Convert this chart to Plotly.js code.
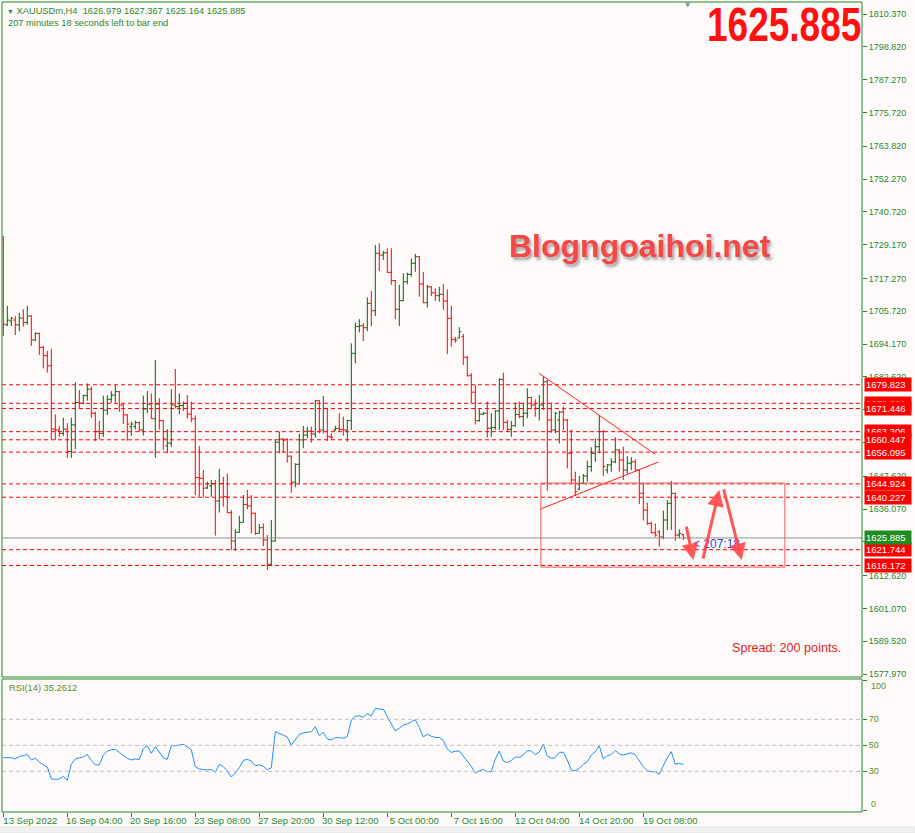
<!DOCTYPE html>
<html><head><meta charset="utf-8">
<script src="https://cdn.plot.ly/plotly-3.0.1.min.js"></script>
<style>html,body{margin:0;padding:0;background:#fffafa;}#chart{width:915px;height:833px;}</style>
</head><body><div id="chart"></div>
<script>
// ---- XAUUSDm H4 bars (13 Sep 2022 .. 19 Oct 2022) ----
const openP = [1730.8,1700.9,1702.3,1702.6,1700.9,1703.3,1701.8,1704.0,1695.6,1697.9,
 1693.0,1690.1,1686.5,1664.2,1663.9,1662.7,1664.2,1656.3,1665.7,1673.6,
 1673.3,1676.0,1678.3,1669.8,1663.3,1662.7,1670.9,1674.7,1676.2,1677.4,
 1672.7,1669.2,1665.0,1665.1,1666.5,1663.9,1671.3,1673.0,1667.8,1673.0,
 1667.2,1658.3,1659.3,1672.7,1672.1,1672.5,1673.3,1669.5,1667.8,1647.2,
 1646.9,1643.5,1644.2,1645.0,1638.9,1645.0,1640.4,1634.8,1624.8,1627.9,
 1631.4,1637.7,1637.1,1634.6,1627.5,1629.5,1625.2,1616.6,1624.8,1659.6,
 1660.7,1660.6,1654.7,1645.5,1651.8,1660.4,1662.1,1663.5,1662.5,1674.2,
 1663.9,1671.5,1661.5,1663.9,1664.5,1664.1,1663.9,1667.2,1690.9,1700.3,
 1700.6,1699.9,1708.5,1705.9,1726.1,1725.5,1726.3,1719.4,1716.5,1706.4,
 1709.4,1716.1,1718.7,1722.6,1724.9,1715.3,1708.7,1714.3,1712.2,1711.2,
 1711.7,1709.3,1703.2,1695.8,1696.3,1696.7,1689.5,1683.0,1677.2,1667.2,
 1669.5,1669.8,1664.5,1664.8,1670.6,1681.7,1666.6,1664.1,1665.4,1669.4,
 1668.6,1669.8,1675.3,1672.7,1671.5,1672.7,1680.9,1667.4,1663.9,1667.4,
 1670.2,1667.4,1655.7,1646.3,1643.1,1645.1,1647.7,1651.0,1655.7,1658.0,
 1663.3,1649.8,1651.6,1652.7,1656.9,1653.3,1649.8,1652.2,1652.7,1649.8,
 1641.6,1635.7,1631.0,1627.7,1628.0,1626.2,1632.2,1638.1,1641.6,1626.9,
 1626.979];
const highP = [1732.2,1707.6,1703.6,1704.0,1705.1,1706.4,1707.6,1704.3,1698.3,1698.2,
 1693.5,1691.8,1692.5,1669.4,1665.3,1668.2,1666.3,1668.2,1680.7,1678.0,
 1676.3,1680.3,1679.1,1670.3,1667.1,1676.0,1676.2,1677.6,1679.7,1677.6,
 1673.0,1669.5,1666.8,1667.2,1666.8,1676.0,1677.6,1676.8,1688.5,1675.1,
 1667.4,1664.2,1678.3,1685.4,1676.8,1673.9,1676.2,1673.9,1669.0,1658.3,
 1649.8,1645.7,1646.3,1646.3,1650.2,1647.4,1648.6,1635.7,1629.0,1633.7,
 1641.0,1642.8,1641.0,1634.8,1630.8,1631.0,1626.9,1632.2,1660.7,1663.3,
 1661.0,1661.0,1654.8,1652.2,1662.5,1665.3,1665.1,1665.1,1674.5,1674.5,
 1675.9,1671.7,1662.7,1665.4,1669.8,1668.6,1667.4,1694.4,1701.7,1702.9,
 1701.5,1710.6,1712.8,1729.0,1729.6,1727.0,1727.9,1727.9,1716.7,1715.0,
 1719.1,1719.3,1724.3,1725.9,1725.2,1719.6,1715.0,1714.6,1713.8,1714.3,
 1715.3,1713.4,1707.6,1696.7,1700.1,1697.7,1689.9,1683.9,1679.7,1671.5,
 1670.3,1673.9,1669.8,1670.9,1682.1,1684.1,1667.4,1667.1,1673.5,1673.9,
 1673.5,1678.6,1675.6,1674.7,1676.2,1682.9,1681.5,1673.5,1670.3,1670.7,
 1672.1,1667.7,1664.1,1649.2,1647.7,1648.4,1653.1,1657.8,1661.0,1669.2,
 1663.9,1651.9,1653.9,1661.3,1657.2,1658.0,1654.7,1654.3,1653.6,1650.1,
 1645.3,1638.3,1631.6,1631.0,1628.7,1635.5,1639.2,1646.0,1641.8,1628.9,
 1627.367];
const lowP = [1697.0,1700.5,1700.5,1697.3,1698.7,1700.3,1700.9,1693.5,1695.2,1690.3,
 1685.6,1684.1,1660.6,1660.4,1661.5,1661.8,1654.1,1654.1,1657.2,1671.3,
 1673.0,1674.2,1668.2,1660.0,1660.6,1661.5,1669.2,1673.5,1673.5,1670.3,
 1666.0,1660.1,1661.9,1664.1,1663.3,1661.9,1669.8,1667.8,1654.1,1664.1,
 1656.9,1655.7,1658.0,1671.5,1669.4,1670.6,1668.0,1666.6,1641.0,1640.4,
 1640.1,1643.1,1640.4,1626.7,1634.8,1636.9,1634.6,1621.6,1621.4,1627.7,
 1631.3,1636.0,1627.5,1626.9,1627.4,1623.0,1614.6,1616.1,1624.6,1655.7,
 1656.0,1652.4,1641.8,1643.7,1644.8,1657.5,1661.0,1659.4,1661.3,1662.7,
 1662.7,1660.0,1660.4,1663.5,1663.3,1661.9,1659.8,1663.9,1687.4,1698.3,
 1695.2,1698.7,1700.5,1704.0,1719.9,1723.8,1719.3,1715.0,1703.0,1700.5,
 1709.3,1715.2,1717.9,1719.6,1710.8,1708.5,1707.0,1711.1,1709.3,1709.1,
 1706.2,1690.6,1693.2,1694.6,1696.2,1686.8,1682.7,1673.5,1665.9,1666.8,
 1669.2,1661.2,1661.5,1663.9,1663.9,1663.9,1663.3,1661.5,1665.1,1668.0,
 1665.1,1668.0,1671.2,1668.6,1667.2,1670.9,1642.5,1662.9,1662.7,1659.2,
 1663.9,1650.4,1645.3,1640.6,1642.8,1644.9,1645.7,1649.2,1652.7,1655.7,
 1647.7,1648.6,1649.2,1652.2,1649.2,1646.3,1648.6,1649.8,1649.2,1637.8,
 1632.0,1630.4,1627.5,1626.3,1622.8,1625.4,1628.7,1628.7,1624.9,1625.7,
 1625.164];
const closeP = [1701.2,1702.6,1703.3,1700.9,1703.3,1701.8,1704.0,1695.6,1697.9,1693.0,
 1690.1,1686.5,1664.2,1663.9,1662.7,1664.2,1656.3,1665.7,1673.6,1673.3,
 1676.0,1678.3,1669.8,1663.3,1662.7,1670.9,1674.7,1676.2,1677.4,1672.7,
 1669.2,1666.0,1666.0,1666.5,1663.9,1671.3,1673.0,1668.0,1673.0,1667.2,
 1661.0,1659.3,1672.7,1672.1,1672.5,1673.3,1669.5,1667.8,1647.2,1646.9,
 1643.4,1645.0,1645.0,1638.9,1645.0,1640.4,1634.8,1624.8,1627.9,1631.4,
 1637.7,1637.1,1634.6,1627.5,1629.5,1625.2,1616.6,1624.8,1659.6,1660.7,
 1660.3,1654.7,1645.5,1651.8,1660.4,1662.1,1663.5,1662.5,1674.2,1663.9,
 1671.5,1661.5,1661.3,1664.5,1664.1,1663.9,1667.2,1690.9,1700.3,1700.6,
 1699.9,1708.5,1705.9,1726.1,1725.5,1726.3,1719.4,1716.5,1706.4,1709.4,
 1716.1,1718.7,1722.6,1724.9,1715.3,1708.7,1714.3,1712.2,1711.2,1711.7,
 1709.3,1703.2,1695.8,1695.6,1698.5,1689.5,1683.0,1677.2,1667.2,1669.5,
 1669.8,1664.5,1664.8,1670.6,1681.7,1666.6,1664.1,1665.4,1669.4,1668.6,
 1669.8,1675.3,1672.7,1671.5,1672.7,1680.9,1667.4,1663.9,1669.8,1670.2,
 1667.4,1655.7,1646.3,1642.2,1645.1,1647.7,1651.0,1655.7,1658.0,1663.3,
 1651.0,1651.6,1652.7,1656.9,1653.3,1649.8,1652.2,1652.7,1649.8,1641.6,
 1635.7,1631.0,1627.7,1626.9,1626.2,1632.2,1638.1,1641.6,1626.9,1627.5,
 1625.885];
const rsi14 = [40.5,40.5,40.5,39.5,41.5,42.0,43.0,38.7,40.0,36.9,
 35.4,33.3,24.1,23.8,24.1,26.1,23.1,35.4,39.5,40.0,
 41.0,43.0,38.4,34.9,34.9,42.5,45.6,46.6,46.9,44.6,
 42.0,40.0,38.7,39.5,39.0,47.2,49.7,43.8,49.0,44.6,
 40.5,39.2,49.7,49.7,50.2,50.7,48.7,46.6,33.6,31.8,
 31.3,31.0,31.5,29.2,35.4,33.6,30.2,25.6,28.7,32.8,
 38.4,39.2,37.9,34.3,34.9,33.8,31.3,32.8,60.5,59.2,
 57.9,56.4,50.2,54.1,58.4,59.5,60.0,60.5,64.3,57.4,
 60.0,54.9,54.1,55.9,55.9,55.4,56.7,69.5,72.3,72.8,
 71.5,74.6,72.5,78.4,77.9,77.7,72.0,66.1,61.0,63.1,
 65.6,66.4,68.2,69.7,63.6,56.4,58.4,56.9,56.1,55.9,
 53.8,47.2,44.5,45.4,45.6,41.3,37.7,33.8,28.7,30.5,
 31.5,29.7,29.7,39.5,45.6,37.9,36.6,38.4,41.0,40.7,
 42.5,45.9,45.6,42.8,44.9,50.8,41.8,40.0,40.5,44.6,
 44.6,38.7,31.0,30.5,32.3,35.4,37.4,42.5,45.1,49.5,
 39.5,42.0,43.0,46.1,43.3,42.5,43.6,44.3,42.5,37.9,
 33.6,30.5,29.7,29.7,27.7,34.3,40.5,45.1,35.4,36.1,
 35.26];

// time axis labels (one every 16 bars)
const timeTickBars = [0,16,32,48,64,80,96,112,128,144,160];
const timeTickLabels = ["13 Sep 2022","16 Sep 04:00","20 Sep 16:00","23 Sep 08:00","27 Sep 20:00",
  "30 Sep 12:00","5 Oct 00:00","7 Oct 16:00","12 Oct 04:00","14 Oct 20:00","19 Oct 08:00"];
// price scale labels
const priceTicks = [1810.370,1798.820,1787.270,1775.720,1763.820,1752.270,1740.720,1729.170,1717.270,
  1705.720,1694.170,1682.620,1671.070,1659.520,1647.620,1636.070,1624.520,1612.620,1601.070,1589.520,1577.970];
const rsiTicks = [0,30,50,70,100];
const rsiTickText = ['','30','50','70',''];
const rsiLevels = [70,50,30];
// horizontal levels drawn on the chart
const levels = [1679.823,1673.281,1671.446,1663.306,1660.447,1656.095,1644.924,1640.227,1621.744,1616.172];
const lastPrice = 1625.885;
// drawn objects (bar index, price)
const triUpperX = [133.9,162.9], triUpperY = [1683.9,1655.4];
const triLowerX = [134.2,163.75], triLowerY = [1636.0,1652.6];
const boxX = [134.4,195.4], boxY = [1615.6,1645.2];
const arrowTailX = [170.7,174.85,180.0], arrowTailY = [1630.4,1618.1,1643.5];
const arrowHeadX = [172.5,179.0,184.6], arrowHeadY = [1618.1,1642.8,1618.1];

const GREEN = '#228b22', TXT = '#2a8a2a', RED = '#ff0000', RSITXT = '#5c8c22';
const idx = openP.map((_, i) => i);

const traces = [
  {type:'ohlc', x: idx, open: openP, high: highP, low: lowP, close: closeP,
   xaxis:'x', yaxis:'y', tickwidth:0.5, hoverinfo:'skip',
   increasing:{line:{color:'#006400', width:1}},
   decreasing:{line:{color:'#ff0000', width:1}}},
  {type:'scatter', mode:'lines', x: idx, y: rsi14, xaxis:'x', yaxis:'y2',
   line:{color:'#1e90ff', width:1}, hoverinfo:'skip'}
];

const pxX = p => (p - 2) / 860;   // pixel -> paper (plot area 2..862)
const pxY = p => (812 - p) / 810; // pixel -> paper (plot area 2..812)
const mainBottom = pxY(677), rsiTop = pxY(679);

const shapes = [];
levels.forEach(v => shapes.push({type:'line', xref:'paper', yref:'y', x0:0, x1:1, y0:v, y1:v,
  line:{color:RED, width:1, dash:'4px,3px'}}));
shapes.push({type:'line', xref:'paper', yref:'y', x0:0, x1:1, y0:lastPrice, y1:lastPrice,
  line:{color:'#8a949c', width:1}});
rsiLevels.forEach(v => shapes.push({type:'line', xref:'paper', yref:'y2', x0:0, x1:1, y0:v, y1:v,
  line:{color:'#c0c0c0', width:1, dash:'4px,3px'}}));
shapes.push({type:'line', xref:'x', yref:'y', x0:triUpperX[0], x1:triUpperX[1], y0:triUpperY[0], y1:triUpperY[1],
  line:{color:'#ff2020', width:1}});
shapes.push({type:'line', xref:'x', yref:'y', x0:triLowerX[0], x1:triLowerX[1], y0:triLowerY[0], y1:triLowerY[1],
  line:{color:'#ff2020', width:1}});
shapes.push({type:'rect', xref:'x', yref:'y', x0:boxX[0], x1:boxX[1], y0:boxY[0], y1:boxY[1],
  line:{color:'#f05a5a', width:1}});
// panel frames
shapes.push({type:'rect', xref:'paper', yref:'paper', x0:0, x1:1, y0:mainBottom, y1:1, line:{color:GREEN, width:1}});
shapes.push({type:'rect', xref:'paper', yref:'paper', x0:0, x1:1, y0:0, y1:rsiTop, line:{color:GREEN, width:1}});
// bottom gray strip of the window
shapes.push({type:'rect', xref:'paper', yref:'paper', layer:'below', x0:pxX(0), x1:pxX(915), y0:pxY(833), y1:pxY(827),
  fillcolor:'#f0f0f0', line:{color:'#e4e4e4', width:1}});

const annotations = [];
annotations.push({xref:'paper', yref:'paper', x:pxX(5), y:pxY(11), xanchor:'left', yanchor:'middle', showarrow:false,
  text:'<span style="font-size:7px">▼</span> XAUUSDm,H4  1626.979 1627.367 1625.164 1625.885',
  font:{family:'Liberation Sans, Arial', size:9.3, color:TXT}});
annotations.push({xref:'paper', yref:'paper', x:pxX(6), y:pxY(23), xanchor:'left', yanchor:'middle', showarrow:false,
  text:'207 minutes 18 seconds left to bar end', font:{family:'Liberation Sans, Arial', size:9.3, color:TXT}});
annotations.push({xref:'paper', yref:'paper', x:pxX(784), y:pxY(25), xanchor:'center', yanchor:'middle', showarrow:false,
  text:'<b>1625.885</b>', font:{family:'Liberation Sans, Arial', size:37, color:'#ff1111'}});
annotations.push({xref:'paper', yref:'paper', x:pxX(688), y:pxY(5), xanchor:'center', yanchor:'middle', showarrow:false,
  text:'▼', font:{family:'DejaVu Sans', size:7, color:'#8f9aa3'}});
annotations.push({xref:'paper', yref:'paper', x:pxX(640), y:pxY(246), xanchor:'center', yanchor:'middle', showarrow:false,
  text:'<b>Blogngoaihoi.net</b>',
  font:{family:'Liberation Sans, Arial', size:32, color:'#f24848', shadow:'2px 3px 3px rgba(0,0,0,0.35)'}});
annotations.push({xref:'paper', yref:'paper', x:pxX(730), y:pxY(648), xanchor:'left', yanchor:'middle', showarrow:false,
  text:'Spread: 200 points.', font:{family:'Liberation Sans, Arial', size:12.6, color:'#e01e1e'}});
annotations.push({xref:'paper', yref:'paper', x:pxX(7), y:pxY(688), xanchor:'left', yanchor:'middle', showarrow:false,
  text:'RSI(14) 35.2612', font:{family:'Liberation Sans, Arial', size:9.3, color:RSITXT}});
annotations.push({xref:'paper', yref:'paper', x:pxX(869), y:pxY(686), xanchor:'left', yanchor:'middle', showarrow:false,
  text:'100', font:{family:'Liberation Sans, Arial', size:9, color:RSITXT}});
annotations.push({xref:'paper', yref:'paper', x:pxX(869), y:pxY(804), xanchor:'left', yanchor:'middle', showarrow:false,
  text:'0', font:{family:'Liberation Sans, Arial', size:9, color:RSITXT}});
annotations.push({xref:'x', yref:'y', x:171.9, y:1623.75, xanchor:'left', yanchor:'middle', showarrow:false,
  text:'&lt; 207:18', font:{family:'Liberation Sans, Arial', size:12, color:'#3048e8'}});
// arrows
for (let k = 0; k < arrowTailX.length; k++) {
  annotations.push({xref:'x', yref:'y', axref:'x', ayref:'y', x:arrowHeadX[k], y:arrowHeadY[k],
    ax:arrowTailX[k], ay:arrowTailY[k], text:'', showarrow:true, arrowhead:2, arrowsize:1.1,
    arrowwidth:3, arrowcolor:'rgba(255,70,70,0.9)'});
}
// price labels on the scale
levels.forEach(v => annotations.push({xref:'paper', yref:'y', x:pxX(864), y:v, xanchor:'left', yanchor:'middle',
  showarrow:false, text:v.toFixed(3), bgcolor:RED, borderpad:1, width:44, align:'left',
  font:{family:'Liberation Sans, Arial', size:9.5, color:'#ffffff'}}));
annotations.push({xref:'paper', yref:'y', x:pxX(864), y:lastPrice, xanchor:'left', yanchor:'middle',
  showarrow:false, text:lastPrice.toFixed(3), bgcolor:'#228b22', borderpad:1, width:44, align:'left',
  font:{family:'Liberation Sans, Arial', size:9.5, color:'#ffffff'}});

const layout = {
  width:915, height:833, margin:{l:2, r:53, t:2, b:21},
  paper_bgcolor:'#fffafa', plot_bgcolor:'#fffafa', showlegend:false,
  xaxis:{range:[-0.325, 214.675], anchor:'y2', showgrid:false, zeroline:false, showline:false,
    tickmode:'array', tickvals:timeTickBars, ticktext:timeTickLabels, ticks:'outside', ticklen:4,
    tickcolor:GREEN, ticklabelshift:27, ticklabelstandoff:-4,
    tickfont:{family:'Liberation Sans, Arial', size:9.5, color:TXT},
    rangeslider:{visible:false}, fixedrange:true},
  yaxis:{domain:[mainBottom, 1], range:[1576.92, 1814.6], side:'right', anchor:'x', showgrid:false, zeroline:false,
    tickmode:'array', tickvals:priceTicks, tickformat:'.3f', ticks:'outside', ticklen:4, tickcolor:GREEN,
    tickfont:{family:'Liberation Sans, Arial', size:9, color:TXT}, fixedrange:true},
  yaxis2:{domain:[0, rsiTop], range:[-1.3, 101], side:'right', anchor:'x', showgrid:false, zeroline:false,
    tickmode:'array', tickvals:rsiTicks, ticktext:rsiTickText, ticks:'outside', ticklen:4, tickcolor:GREEN,
    tickfont:{family:'Liberation Sans, Arial', size:9, color:RSITXT}, fixedrange:true},
  shapes:shapes, annotations:annotations
};
Plotly.newPlot('chart', traces, layout, {displayModeBar:false, staticPlot:true}).then(() => {
  // stretch the big price text vertically (the original uses a tall, narrow face)
  document.querySelectorAll('#chart text.annotation-text').forEach(t => {
    if (t.textContent === '1625.885' && parseFloat(t.style.fontSize) > 30) {
      t.style.transformBox = 'fill-box';
      t.style.transformOrigin = 'center';
      t.style.transform = 'scaleY(1.28)';
    }
  });
});
</script></body></html>
